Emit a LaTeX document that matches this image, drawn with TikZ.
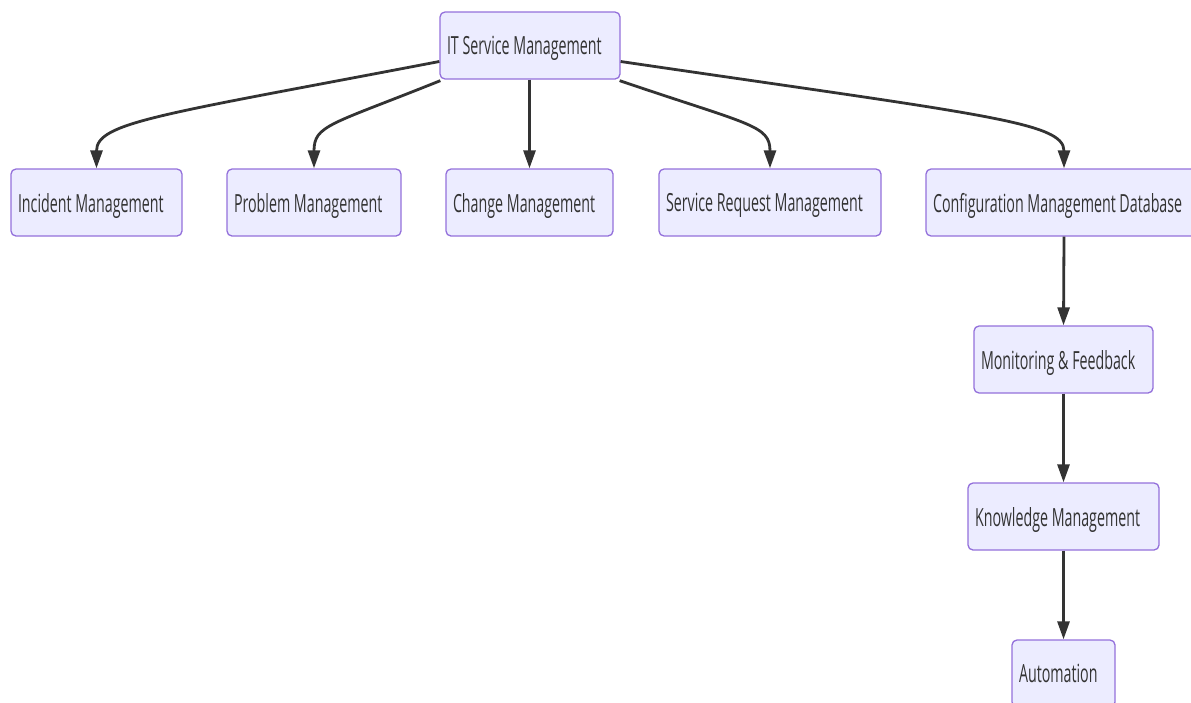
\documentclass[tikz,border=0pt]{standalone}
\usepackage{fontspec}
\setmainfont{Open Sans}[FakeStretch=0.57]
\usetikzlibrary{arrows.meta}
\definecolor{boxfill}{HTML}{ECECFF}
\definecolor{boxline}{HTML}{9370DB}
\definecolor{ink}{HTML}{333333}
\newcommand{\lbl}[2]{\raisebox{0pt}[\height][0pt]{\makebox[#1][l]{#2}}}
\tikzset{
  box/.style={draw=boxline, fill=boxfill, line width=1.3pt, rounded corners=5pt,
    minimum height=67pt, inner xsep=7pt, inner ysep=0pt,
    text=ink, font=\fontsize{25}{30}\selectfont},
  link/.style={draw=ink, line width=2.8pt, -{Triangle[length=18pt,width=12pt]}},
}
\begin{document}
\begin{tikzpicture}[x=1pt,y=-1pt]
\useasboundingbox (0,0) rectangle (1191,702);
\node[box] (itsm) at (530,45.5) {\lbl{166pt}{IT Service Management}};
\node[box] (inc) at (96.5,202.5) {\lbl{157pt}{Incident Management}};
\node[box] (prob) at (314,202.5) {\lbl{160pt}{Problem Management}};
\node[box] (chg) at (529.5,202.5) {\lbl{153pt}{Change Management}};
\node[box] (srm) at (770,202.5) {\lbl{208pt}{Service Request Management}};
\node[box] (cmdb) at (1064,202.5) {\lbl{262pt}{Configuration Management Database}};
\node[box] (mon) at (1063.5,359.5) {\lbl{165pt}{Monitoring \& Feedback}};
\node[box] (km) at (1063.5,516.5) {\lbl{177pt}{Knowledge Management}};
\node[box] (auto) at (1063.5,673.5) {\lbl{89pt}{Automation}};

\draw[link] ([yshift=-16pt]itsm.west) .. controls (160,115) and (96.5,122) .. (inc.north);
\draw[link] ([xshift=1pt,yshift=-1pt]itsm.south west) .. controls (330,125) and (314,125) .. (prob.north);
\draw[link] (chg.north |- itsm.south) -- (chg.north);
\draw[link] ([xshift=-1pt,yshift=-1pt]itsm.south east) .. controls (750,125) and (770,125) .. (srm.north);
\draw[link] ([yshift=-16pt]itsm.east) .. controls (985,115) and (1064,122) .. (cmdb.north);
\draw[link] (cmdb.south) -- (mon.north);
\draw[link] (mon.south) -- (km.north);
\draw[link] (km.south) -- (auto.north);
\end{tikzpicture}
\end{document}
